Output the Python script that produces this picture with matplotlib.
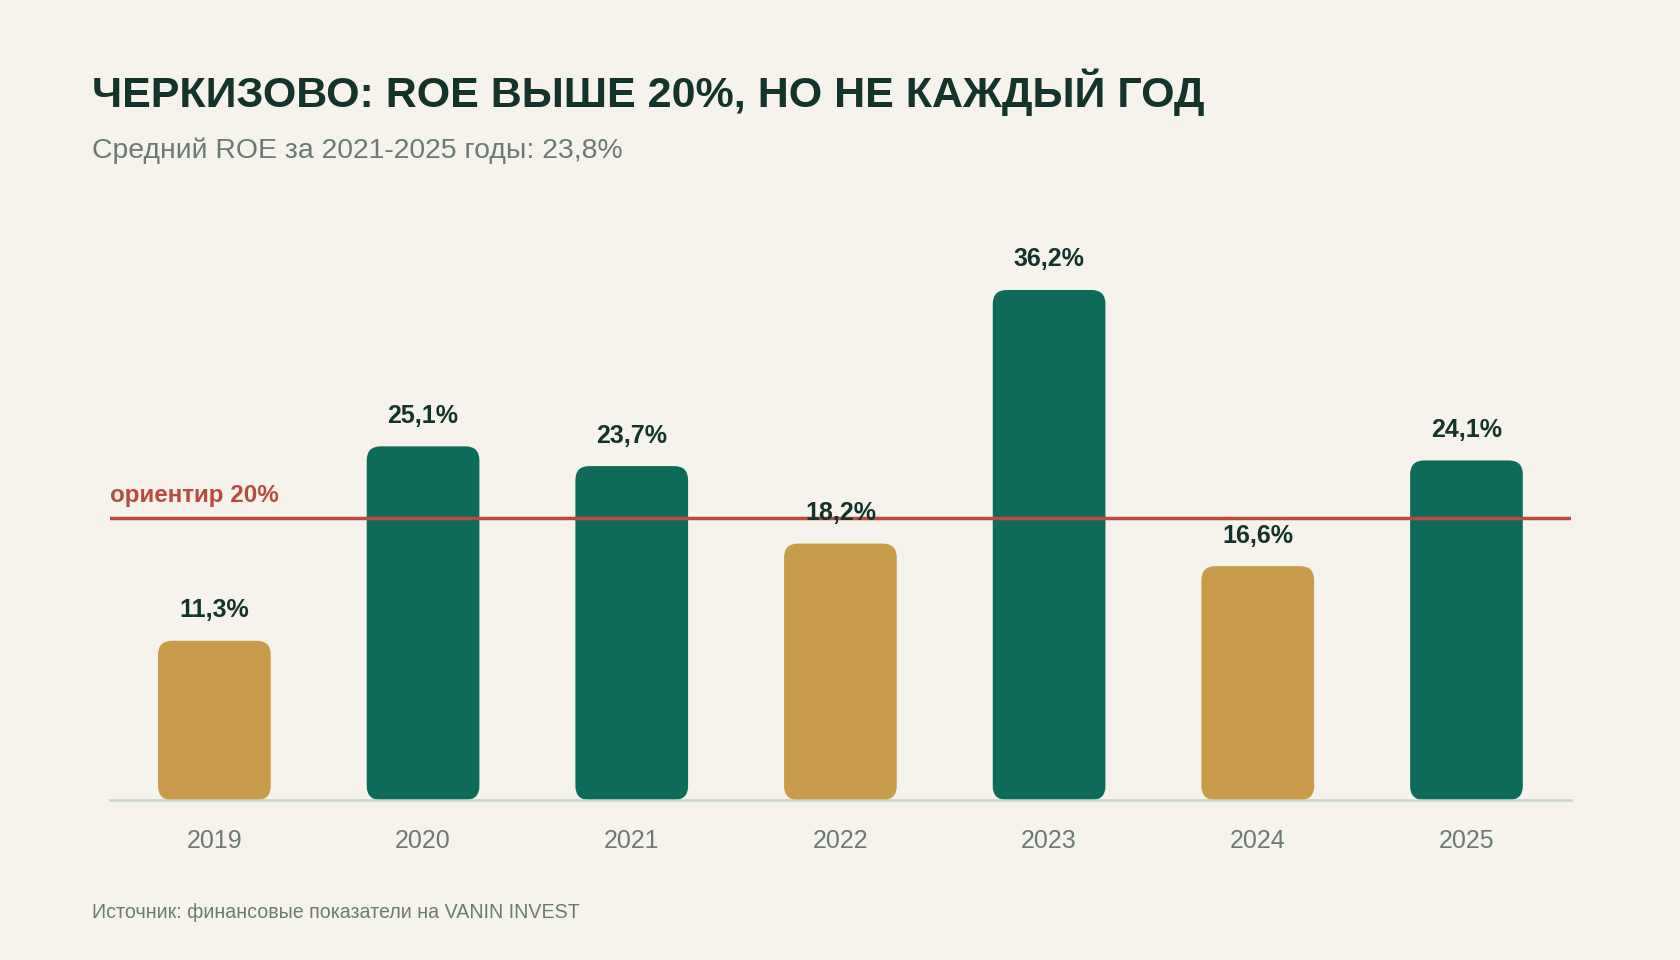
import numpy as np
import matplotlib.pyplot as plt
from matplotlib.patches import FancyBboxPatch

plt.rcParams['font.family'] = ['Liberation Sans', 'DejaVu Sans']

years = ['2019', '2020', '2021', '2022', '2023', '2024', '2025']
roe = [11.3, 25.1, 23.7, 18.2, 36.2, 16.6, 24.1]
labels = ['11,3%', '25,1%', '23,7%', '18,2%', '36,2%', '16,6%', '24,1%']
target = 20

BG = '#f6f3ec'
GREEN = '#0e6b5a'
GOLD = '#c89c4a'
RED = '#b94a40'
DARK = '#14332b'
GREY = '#6b7b73'

fig = plt.figure(figsize=(16.8, 9.6), dpi=100, facecolor=BG)
ax = fig.add_axes([0.0655, 0.1667, 0.8695, 0.587])
ax.set_facecolor(BG)

x = np.arange(len(years))
ax.set_xlim(-0.5, len(years) - 0.5)
ax.set_ylim(0, 40)

# pixel scale, for round corners that look circular
fig.canvas.draw()
p0 = ax.transData.transform((0, 0))
p1 = ax.transData.transform((1, 1))
px_x = p1[0] - p0[0]
px_y = p1[1] - p0[1]
radius_px = 14
aspect = px_x / px_y

width = 0.54
for xi, v in zip(x, roe):
    color = GREEN if v >= target else GOLD
    bar = FancyBboxPatch((xi - width / 2, 0), width, v,
                         boxstyle=f'round,pad=0,rounding_size={radius_px / px_x}',
                         mutation_aspect=aspect,
                         facecolor=color, edgecolor='none', zorder=2)
    ax.add_patch(bar)

for xi, v, lab in zip(x, roe, labels):
    ax.annotate(lab, (xi, v), xytext=(0, 22), textcoords='offset points',
                ha='center', va='center', fontsize=18, fontweight='bold',
                color=DARK, zorder=4)

ax.axhline(target, color=RED, lw=2.5, zorder=3)
ax.annotate('ориентир 20%', (-0.5, target), xytext=(0, 8), textcoords='offset points',
            ha='left', va='bottom', fontsize=17.4, fontweight='bold', color=RED)

for s in ['top', 'right', 'left']:
    ax.spines[s].set_visible(False)
ax.spines['bottom'].set_color('#c5d3cc')
ax.spines['bottom'].set_linewidth(1.8)
ax.spines['bottom'].set_zorder(5)
ax.set_yticks([])
ax.set_xticks(x)
ax.set_xticklabels(years, fontsize=18, color=GREY)
ax.tick_params(axis='x', length=0, pad=21)

fig.text(0.0548, 1 - 107 / 960, 'ЧЕРКИЗОВО: ROE ВЫШЕ 20%, НО НЕ КАЖДЫЙ ГОД',
         fontsize=31, fontweight='bold', color=DARK, va='baseline')
fig.text(0.0548, 1 - 158 / 960, 'Средний ROE за 2021-2025 годы: 23,8%',
         fontsize=20.4, color=GREY, va='baseline')
fig.text(0.0548, 1 - 918 / 960, 'Источник: финансовые показатели на VANIN INVEST',
         fontsize=14.1, color=GREY, va='baseline')

fig.savefig('out.png', dpi=100, facecolor=BG)
